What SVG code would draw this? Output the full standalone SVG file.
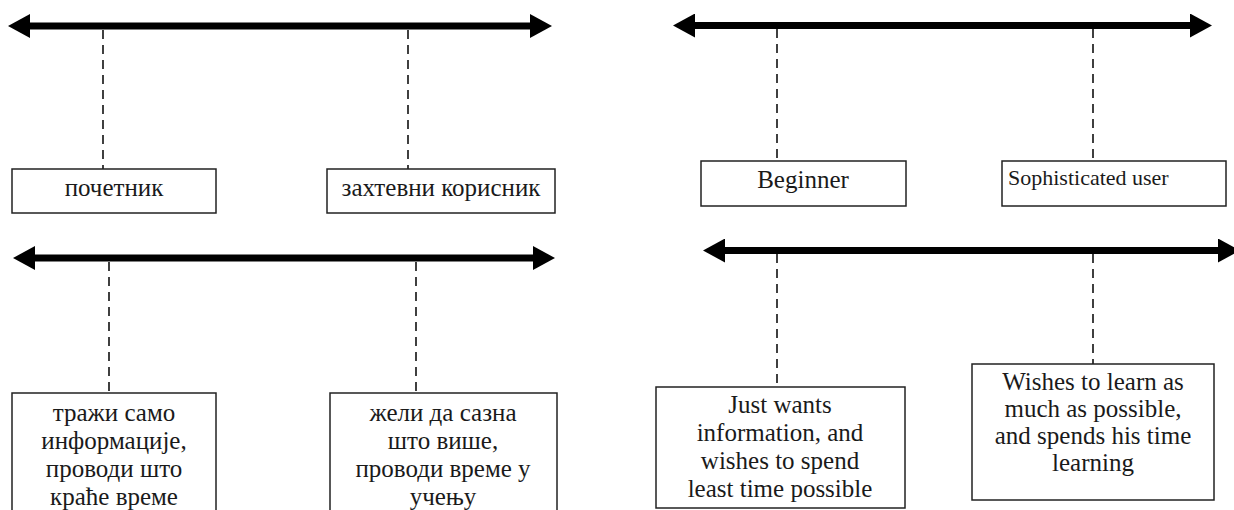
<svg xmlns="http://www.w3.org/2000/svg" width="1234" height="510" viewBox="0 0 1234 510">
  <defs>
    <marker id="head" viewBox="0 0 22 24" markerWidth="22" markerHeight="24" refX="1" refY="12" markerUnits="userSpaceOnUse" orient="auto-start-reverse">
      <path d="M0,0 L22,12 L0,24 z" fill="#000"/>
    </marker>
    <style>
      .axis { stroke: #000; stroke-width: 7; fill: none; marker-start: url(#head); marker-end: url(#head); }
      .dash { stroke: #111; stroke-width: 1.6; stroke-dasharray: 9 6; fill: none; }
      .box { fill: #fff; stroke: #222; stroke-width: 1.5; }
      text { font-family: 'Liberation Serif', 'Times New Roman', serif; fill: #1a1a1a; }
      .t { font-size: 25px; text-anchor: middle; }
      .ts { font-size: 22px; }
    </style>
  </defs>
  <rect width="1234" height="510" fill="#fff"/>

  <g id="connectors">
    <line class="axis" x1="29" y1="26" x2="531" y2="26"/>
    <line class="axis" x1="694" y1="25.5" x2="1191" y2="25.5"/>
    <line class="axis" x1="34" y1="258" x2="534" y2="258"/>
    <line class="axis" x1="724" y1="250.5" x2="1219" y2="250.5"/>
    <line class="dash" x1="103" y1="30" x2="103" y2="169"/>
    <line class="dash" x1="408" y1="30" x2="408" y2="169"/>
    <line class="dash" x1="777" y1="29" x2="777" y2="161"/>
    <line class="dash" x1="1093" y1="29" x2="1093" y2="161"/>
    <line class="dash" x1="109" y1="262" x2="109" y2="393"/>
    <line class="dash" x1="416" y1="262" x2="416" y2="393"/>
    <line class="dash" x1="777" y1="254" x2="777" y2="387"/>
    <line class="dash" x1="1093" y1="254" x2="1093" y2="364"/>
  </g>

  <g id="node-pocetnik">
    <rect class="box" x="12" y="169" width="204" height="44"/>
    <text class="t" x="114" y="196">почетник</text>
  </g>
  <g id="node-zahtevni">
    <rect class="box" x="327" y="169" width="228" height="44"/>
    <text class="t" x="441" y="196">захтевни корисник</text>
  </g>
  <g id="node-beginner">
    <rect class="box" x="701" y="161" width="205" height="45"/>
    <text class="t" x="803" y="188">Beginner</text>
  </g>
  <g id="node-sophisticated">
    <rect class="box" x="1002" y="161" width="224" height="45"/>
    <text class="ts" x="1008" y="185">Sophisticated user</text>
  </g>
  <g id="node-trazi">
    <rect class="box" x="12" y="393" width="204" height="130"/>
    <text class="t" x="114" y="421">тражи само</text>
    <text class="t" x="114" y="449">информације,</text>
    <text class="t" x="114" y="477">проводи што</text>
    <text class="t" x="114" y="505">краће време</text>
  </g>
  <g id="node-zeli">
    <rect class="box" x="330" y="393" width="227" height="130"/>
    <text class="t" x="443" y="421">жели да сазна</text>
    <text class="t" x="443" y="449">што више,</text>
    <text class="t" x="443" y="477">проводи време у</text>
    <text class="t" x="443" y="505">учењу</text>
  </g>
  <g id="node-justwants">
    <rect class="box" x="656" y="387" width="249" height="121"/>
    <text class="t" x="780" y="413">Just wants</text>
    <text class="t" x="780" y="441">information, and</text>
    <text class="t" x="780" y="469">wishes to spend</text>
    <text class="t" x="780" y="497">least time possible</text>
  </g>
  <g id="node-wishes">
    <rect class="box" x="972" y="364" width="242" height="136"/>
    <text class="t" x="1093" y="390">Wishes to learn as</text>
    <text class="t" x="1093" y="417">much as possible,</text>
    <text class="t" x="1093" y="444">and spends his time</text>
    <text class="t" x="1093" y="471">learning</text>
  </g>
</svg>
